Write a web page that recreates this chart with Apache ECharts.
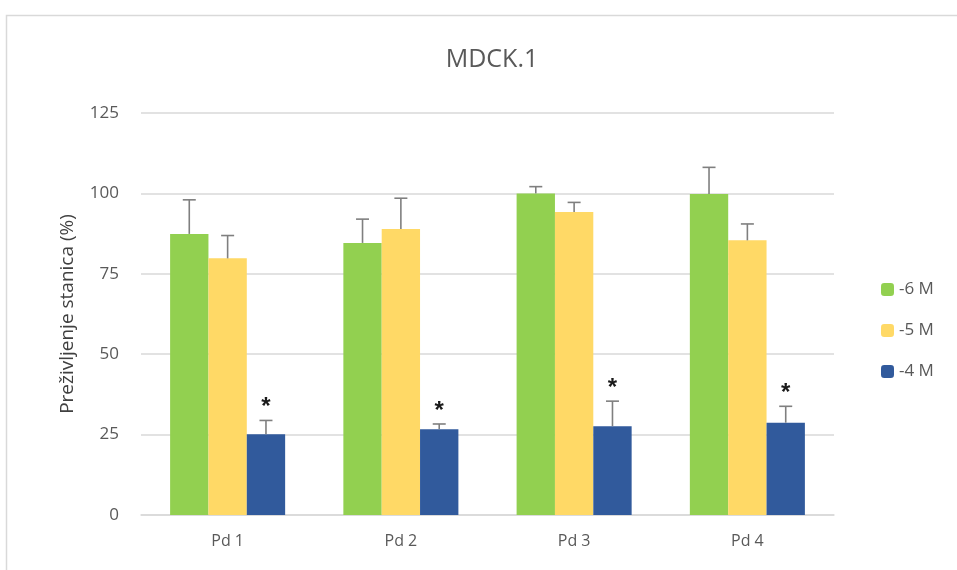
<!DOCTYPE html>
<html><head><meta charset="utf-8">
<script src="https://cdn.jsdelivr.net/npm/echarts@6/dist/echarts.min.js"></script>
<style>html,body{margin:0;padding:0;background:#fff}#c{width:957px;height:570px}</style>
</head><body><div id="c"></div>
<script>
const categories = ['Pd 1', 'Pd 2', 'Pd 3', 'Pd 4'];
const seriesNames = ['-6 M', '-5 M', '-4 M'];
const valsM6 = [87.4, 84.6, 100.0, 99.8];
const valsM5 = [79.8, 88.9, 94.2, 85.4];
const valsM4 = [25.1, 26.7, 27.6, 28.7];
const errM6 = [10.6, 7.4, 2.1, 8.3];
const errM5 = [7.1, 9.6, 3.0, 5.1];
const errM4 = [4.3, 1.6, 7.8, 5.1];
const starM4 = ['*', '*', '*', '*'];
const colors = ['#92D050', '#FFD966', '#315A9C'];
const yTicks = [0, 25, 50, 75, 100, 125];

const allVals = [valsM6, valsM5, valsM4];
const allErr = [errM6, errM5, errM4];
const allStars = [null, null, starM4];
const catGap = 0.336;

const errData = [];
allVals.forEach((vals, s) => vals.forEach((v, i) => errData.push([i, v, allErr[s][i], s, allStars[s] ? allStars[s][i] : ''])));

const chart = echarts.init(document.getElementById('c'));
chart.setOption({
  animation: false,
  title: { text: 'MDCK.1', left: 487, top: 42, textAlign: 'center',
    textStyle: { fontFamily: 'Open Sans', fontSize: 25, fontWeight: 'normal', color: '#595959' } },
  graphic: [{ type: 'rect', left: 4, top: 13, shape: { width: 1000, height: 600 }, style: { fill: 'none', stroke: '#d9d9d9', lineWidth: 1.5 }, silent: true }],
  legend: { orient: 'vertical', left: 876, top: 276, itemGap: 24, itemWidth: 13, itemHeight: 13,
    data: seriesNames,
    textStyle: { fontFamily: 'Open Sans', fontSize: 17, color: '#595959' } },
  grid: { left: 141, right: 123, top: 113, bottom: 55 },
  xAxis: { type: 'category', data: categories,
    axisLine: { lineStyle: { color: '#d9d9d9', width: 1.5 } }, axisTick: { show: false },
    axisLabel: { fontFamily: 'Open Sans', fontSize: 16, color: '#595959', margin: 18 } },
  yAxis: { type: 'value', min: 0, max: 125, interval: 25,
    name: 'Preživljenje stanica (%)', nameLocation: 'middle', nameGap: 64,
    nameTextStyle: { fontFamily: 'Open Sans', fontSize: 19, color: '#404040' },
    axisLabel: { fontFamily: 'Open Sans', fontSize: 17, color: '#595959', margin: 22,
      customValues: yTicks },
    splitLine: { lineStyle: { color: '#d9d9d9', width: 1.5 } } },
  series: seriesNames.map((n, s) => ({
    name: n, type: 'bar', data: allVals[s], barGap: '0%', barCategoryGap: (catGap * 100) + '%',
    itemStyle: { color: colors[s] }
  })).concat([{
    type: 'custom', name: 'err', data: errData, z: 10,
    renderItem: function (params, api) {
      const ci = api.value(0), v = api.value(1), e = api.value(2), s = api.value(3);
      const star = api.value(4);
      const bandW = api.size([1, 0])[0];
      const bw = bandW * (1 - catGap) / 3;
      const c0 = api.coord([ci, v]);
      const c1 = api.coord([ci, v + e]);
      const x = c0[0] + (s - 1) * bw;
      const cap = 6.5;
      const st = { stroke: '#7f7f7f', lineWidth: 1.6 };
      const children = [
        { type: 'line', shape: { x1: x, y1: c0[1], x2: x, y2: c1[1] }, style: st },
        { type: 'line', shape: { x1: x - cap, y1: c1[1], x2: x + cap, y2: c1[1] }, style: st }
      ];
      if (star && star !== '') {
        children.push({ type: 'text', style: { text: star, x: x, y: c1[1] - 13, textAlign: 'center', textVerticalAlign: 'middle',
          font: 'bold 24px "Liberation Sans"', fill: '#1a1a1a' } });
      }
      return { type: 'group', children: children };
    }
  }])
});
</script></body></html>
